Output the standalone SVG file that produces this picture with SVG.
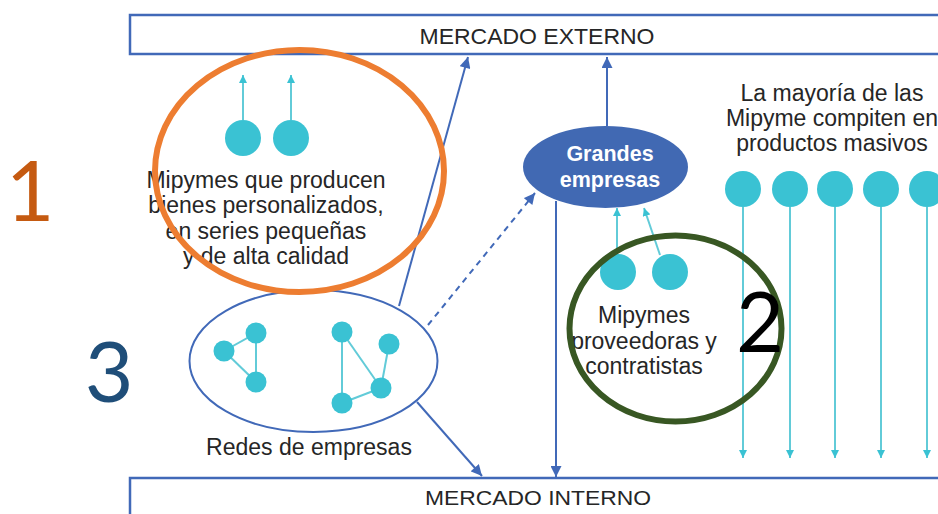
<svg xmlns="http://www.w3.org/2000/svg" width="938" height="514" viewBox="0 0 938 514">
<defs>
<style>
.box{fill:#fff;stroke:#4169B8;stroke-width:2.5}
.lbl{font-family:"Liberation Sans",Arial,sans-serif;fill:#262626;text-anchor:middle}
.body{font-size:23px}
.dot{fill:#3AC2D3}
.tl{stroke:#62CBD8;stroke-width:2;fill:none}
.bl{stroke:#4169B8;stroke-width:2;fill:none}
.num{font-family:Lato,"Noto Sans",sans-serif;text-anchor:middle}
</style>
<marker id="ab" viewBox="0 0 10 10" refX="10" refY="5" markerWidth="12" markerHeight="11" markerUnits="userSpaceOnUse" orient="auto">
<path d="M0,0 L10,5 L0,10 Z" fill="#4169B8"/>
</marker>
<marker id="at" viewBox="0 0 10 10" refX="10" refY="5" markerWidth="8" markerHeight="8" markerUnits="userSpaceOnUse" orient="auto">
<path d="M0,0 L10,5 L0,10 Z" fill="#3AC2D3"/>
</marker>
</defs>
<rect width="938" height="514" fill="#fff"/>

<g id="mercado-externo">
<rect class="box" x="130" y="15" width="820" height="39"/>
<text class="lbl" x="537" y="44" font-size="22" textLength="235" lengthAdjust="spacingAndGlyphs">MERCADO EXTERNO</text>
</g>

<g id="mercado-interno">
<rect class="box" x="130" y="478" width="820" height="50"/>
<text class="lbl" x="538" y="505" font-size="21" textLength="226" lengthAdjust="spacingAndGlyphs">MERCADO INTERNO</text>
</g>

<g id="connectors">
<line class="bl" x1="399" y1="306" x2="468" y2="57" marker-end="url(#ab)"/>
<line class="bl" x1="417" y1="402" x2="482" y2="476" marker-end="url(#ab)"/>
<line class="bl" x1="428" y1="325" x2="535" y2="193" stroke-dasharray="6,5" marker-end="url(#ab)"/>
<line class="bl" x1="607" y1="126" x2="607" y2="57" marker-end="url(#ab)"/>
<line class="bl" x1="556" y1="201" x2="556" y2="477" marker-end="url(#ab)"/>
<line class="tl" x1="243" y1="120" x2="243" y2="75" marker-end="url(#at)"/>
<line class="tl" x1="291" y1="120" x2="291" y2="75" marker-end="url(#at)"/>
<line class="tl" x1="617" y1="254" x2="617" y2="208" marker-end="url(#at)"/>
<line class="tl" x1="660" y1="255" x2="644" y2="208" marker-end="url(#at)"/>
<line class="tl" x1="743" y1="207" x2="743" y2="458" marker-end="url(#at)"/>
<line class="tl" x1="790" y1="207" x2="790" y2="458" marker-end="url(#at)"/>
<line class="tl" x1="835" y1="207" x2="835" y2="458" marker-end="url(#at)"/>
<line class="tl" x1="881" y1="207" x2="881" y2="458" marker-end="url(#at)"/>
<line class="tl" x1="927" y1="207" x2="927" y2="458" marker-end="url(#at)"/>
</g>

<g id="mipymes-personalizados">
<circle class="dot" cx="243" cy="138" r="18"/>
<circle class="dot" cx="291" cy="138" r="18"/>
<text class="lbl body" x="266" y="188">Mipymes que producen</text>
<text class="lbl body" x="266" y="213">bienes personalizados,</text>
<text class="lbl body" x="266" y="239">en series pequeñas</text>
<text class="lbl body" x="266" y="264">y de alta calidad</text>
</g>

<g id="redes-de-empresas">
<ellipse cx="313.5" cy="361" rx="124" ry="71" fill="none" stroke="#4169B8" stroke-width="2"/>
<g class="tl">
<line x1="224" y1="351" x2="256" y2="333"/>
<line x1="224" y1="351" x2="256" y2="382"/>
<line x1="256" y1="333" x2="256" y2="382"/>
<line x1="342" y1="332" x2="342" y2="403"/>
<line x1="342" y1="332" x2="381" y2="388"/>
<line x1="389" y1="344" x2="381" y2="388"/>
<line x1="381" y1="388" x2="342" y2="403"/>
</g>
<circle class="dot" cx="224" cy="351" r="10.5"/>
<circle class="dot" cx="256" cy="333" r="10.5"/>
<circle class="dot" cx="256" cy="382" r="10.5"/>
<circle class="dot" cx="342" cy="332" r="10.5"/>
<circle class="dot" cx="389" cy="344" r="10.5"/>
<circle class="dot" cx="381" cy="388" r="10.5"/>
<circle class="dot" cx="342" cy="403" r="10.5"/>
<text class="lbl body" x="309" y="455">Redes de empresas</text>
</g>

<g id="grandes-empresas">
<ellipse cx="605.5" cy="167" rx="82.5" ry="41" fill="#4169B3"/>
<text class="lbl" x="610" y="161" font-size="21.5" font-weight="bold" style="fill:#fff">Grandes</text>
<text class="lbl" x="610" y="187" font-size="21.5" font-weight="bold" style="fill:#fff">empresas</text>
</g>

<g id="mipymes-proveedoras">
<circle class="dot" cx="618" cy="272" r="18"/>
<circle class="dot" cx="670" cy="272" r="18"/>
<text class="lbl body" x="644" y="323">Mipymes</text>
<text class="lbl body" x="644" y="349">proveedoras y</text>
<text class="lbl body" x="644" y="374">contratistas</text>
</g>

<g id="mipymes-masivos">
<text class="lbl body" x="832" y="101">La mayoría de las</text>
<text class="lbl body" x="832" y="126">Mipyme compiten en</text>
<text class="lbl body" x="832" y="151">productos masivos</text>
<circle class="dot" cx="743" cy="189" r="18"/>
<circle class="dot" cx="790" cy="189" r="18"/>
<circle class="dot" cx="835" cy="189" r="18"/>
<circle class="dot" cx="881" cy="189" r="18"/>
<circle class="dot" cx="927" cy="189" r="18"/>
</g>

<g id="highlight-1">
<ellipse cx="299.5" cy="171" rx="144.5" ry="121" fill="none" stroke="#ED7D31" stroke-width="6"/>
<text class="num" x="30" y="221" font-size="84" fill="#C55A11">1</text>
</g>

<g id="highlight-2">
<ellipse cx="675.5" cy="328.5" rx="106" ry="93" fill="none" stroke="#385723" stroke-width="6"/>
<text class="num" x="760" y="352" font-size="83" fill="#000">2</text>
</g>

<g id="highlight-3">
<text class="num" x="109" y="402" font-size="84" fill="#1F4E79">3</text>
</g>
</svg>
